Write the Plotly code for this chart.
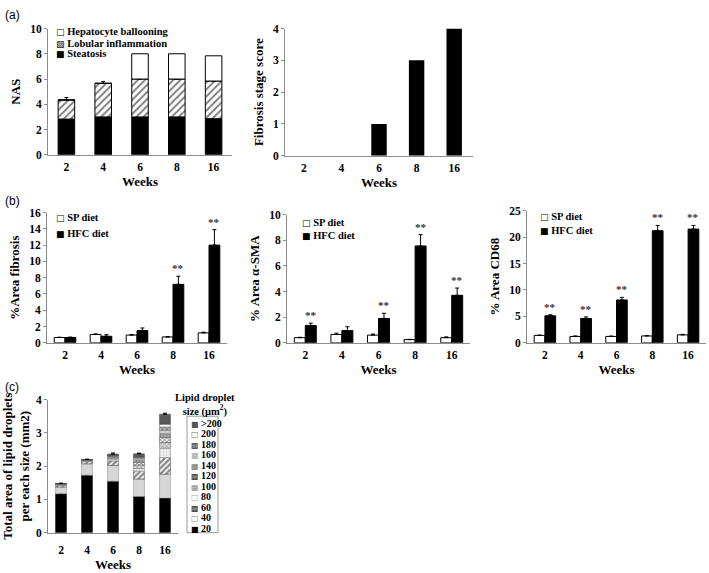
import numpy as np
import plotly.graph_objects as go

W, H = 709, 573
SERIF = "Liberation Serif"
SANS = "Liberation Sans"
SYM = "DejaVu Sans"
AX = "#8c8c8c"

# ---------------- data ----------------
weeks = ["2", "4", "6", "8", "16"]

# (a) NAS components
nas_steatosis = [2.83, 3.0, 3.0, 3.0, 2.86]
nas_lobular = [1.51, 2.66, 3.0, 3.0, 2.98]
nas_lobular_err = [0.2, 0.15, 0, 0, 0]
nas_ballooning = [0, 0, 2.0, 2.0, 2.0]
nas_names = ["Steatosis", "Lobular inflammation", "Hepatocyte ballooning"]

# (a) fibrosis stage
fibrosis_stage = [0, 0, 1, 3, 4]

# (b) % area fibrosis
fib_sp = [0.65, 1.02, 0.95, 0.72, 1.22]
fib_sp_err = [0.04, 0.08, 0.06, 0.04, 0.08]
fib_hfc = [0.65, 0.8, 1.5, 7.18, 12.0]
fib_hfc_err = [0.06, 0.2, 0.32, 1.0, 1.9]
fib_sig = ["", "", "", "**", "**"]

# (b) % area alpha-SMA
sma_sp = [0.4, 0.65, 0.6, 0.25, 0.4]
sma_sp_err = [0.03, 0.1, 0.08, 0.02, 0.06]
sma_hfc = [1.35, 0.95, 1.9, 7.55, 3.7]
sma_hfc_err = [0.18, 0.3, 0.4, 0.88, 0.57]
sma_sig = ["**", "", "**", "**", "**"]

# (b) % area CD68
cd68_sp = [1.4, 1.2, 1.2, 1.3, 1.5]
cd68_sp_err = [0.06, 0.1, 0.08, 0.05, 0.1]
cd68_hfc = [5.1, 4.6, 8.1, 21.2, 21.5]
cd68_hfc_err = [0.2, 0.3, 0.5, 1.0, 0.7]
cd68_sig = ["**", "**", "**", "**", "**"]

diet_names = ["SP diet", "HFC diet"]

# (c) lipid droplet area per size class (mm2)
lipid_size_labels = ["20", "40", "60", "80", "100", "120", "140", "160", "180", "200", ">200"]
lipid_20 = [1.17, 1.73, 1.55, 1.09, 1.04]
lipid_40 = [0.2, 0.34, 0.47, 0.52, 0.72]
lipid_60 = [0.05, 0.07, 0.14, 0.24, 0.5]
lipid_80 = [0.02, 0.02, 0.05, 0.08, 0.28]
lipid_100 = [0.01, 0.01, 0.04, 0.1, 0.17]
lipid_120 = [0.01, 0.01, 0.03, 0.08, 0.15]
lipid_140 = [0.005, 0.005, 0.02, 0.06, 0.12]
lipid_160 = [0.005, 0.005, 0.01, 0.05, 0.1]
lipid_180 = [0.005, 0.005, 0.005, 0.04, 0.1]
lipid_200 = [0.0, 0.0, 0.0, 0.01, 0.08]
lipid_gt200 = [0.005, 0.005, 0.05, 0.1, 0.3]
lipid_20_err = [0.15, 0.27, 0.25, 0.1, 0.13]
lipid_top_err = [0.01, 0.01, 0.03, 0.02, 0.03]

# ---------------- helpers ----------------
def xd(a, b):
    return [a / W, b / W]


def yd(top, bottom):
    return [1 - bottom / H, 1 - top / H]


def px(x):
    return x / W


def py(y):
    return 1 - y / H


tickfont = dict(family=SERIF, size=11.5, color="black", weight="bold")
titlefont = dict(family=SERIF, size=13, color="black", weight="bold")


def xaxis_cfg(dom, anchor, standoff=5, tls=1):
    return dict(domain=dom, anchor=anchor, type="category", showline=True,
                linecolor=AX, linewidth=1, ticks="", tickfont=tickfont,
                ticklabelstandoff=tls, showgrid=False, zeroline=False,
                range=[-0.5, 4.5], fixedrange=True,
                title=dict(text="Weeks", font=titlefont, standoff=standoff))


def yaxis_cfg(dom, anchor, rng, dtick, title, standoff=6):
    return dict(domain=dom, anchor=anchor, range=rng, dtick=dtick, tick0=0,
                showline=True, linecolor=AX, linewidth=1, ticks="outside",
                ticklen=3, tickcolor=AX, tickfont=tickfont, showgrid=False,
                zeroline=False, fixedrange=True,
                title=dict(text=title, font=titlefont, standoff=standoff))


err_style = dict(type="data", symmetric=False, color="black", thickness=1, width=2)

fig = go.Figure()

# ---------------- (a) NAS stacked ----------------
nas_base1 = np.array(nas_steatosis)
nas_base2 = nas_base1 + np.array(nas_lobular)
fig.add_trace(go.Bar(x=weeks, y=nas_steatosis, name=nas_names[0], width=0.45,
                     marker=dict(color="black", line=dict(color="black", width=1)),
                     xaxis="x", yaxis="y"))
fig.add_trace(go.Bar(x=weeks, y=nas_lobular, base=nas_base1, name=nas_names[1], width=0.45,
                     marker=dict(color="white", line=dict(color="black", width=1),
                                 pattern=dict(shape="/", fgcolor="black", bgcolor="white",
                                              size=5, solidity=0.4)),
                     error_y=dict(array=nas_lobular_err, arrayminus=[0] * 5, **err_style),
                     xaxis="x", yaxis="y"))
fig.add_trace(go.Bar(x=weeks, y=nas_ballooning, base=nas_base2, name=nas_names[2], width=0.45,
                     marker=dict(color="white", line=dict(color="black", width=1)),
                     xaxis="x", yaxis="y"))

# ---------------- (a) fibrosis stage ----------------
fig.add_trace(go.Bar(x=weeks, y=fibrosis_stage, width=0.41,
                     marker=dict(color="black", line=dict(color="black", width=0)),
                     xaxis="x2", yaxis="y2"))

# ---------------- (b) grouped panels ----------------
BW = 0.3
panels_b = [
    ("x3", "y3", fib_sp, fib_sp_err, fib_hfc, fib_hfc_err, fib_sig),
    ("x4", "y4", sma_sp, sma_sp_err, sma_hfc, sma_hfc_err, sma_sig),
    ("x5", "y5", cd68_sp, cd68_sp_err, cd68_hfc, cd68_hfc_err, cd68_sig),
]
for xa, ya, sp, spe, hfc, hfce, sig in panels_b:
    fig.add_trace(go.Bar(x=weeks, y=sp, name=diet_names[0], width=BW, offset=-BW,
                         marker=dict(color="white", line=dict(color="black", width=1)),
                         error_y=dict(array=spe, arrayminus=[0] * 5, **err_style),
                         xaxis=xa, yaxis=ya))
    fig.add_trace(go.Bar(x=weeks, y=hfc, name=diet_names[1], width=BW, offset=0,
                         marker=dict(color="black", line=dict(color="black", width=1)),
                         error_y=dict(array=hfce, arrayminus=[0] * 5, **err_style),
                         xaxis=xa, yaxis=ya))
    for i, s in enumerate(sig):
        if s:
            # category axis: use the category index, shifted onto the HFC bar
            fig.add_annotation(x=i + BW / 2, y=hfc[i] + hfce[i], xref=xa, yref=ya,
                               text=s, showarrow=False, xanchor="center", yanchor="bottom",
                               yshift=0,
                               font=dict(family=SERIF, size=11, color="#333", weight="bold"))

# ---------------- (c) lipid droplet stacked ----------------
lipid_series = [lipid_20, lipid_40, lipid_60, lipid_80, lipid_100, lipid_120,
                lipid_140, lipid_160, lipid_180, lipid_200, lipid_gt200]
lipid_styles = [
    dict(color="black", line=dict(color="black", width=0.5)),
    dict(color="#d6d6d6", line=dict(color="#888", width=0.5)),
    dict(color="white", line=dict(color="#444", width=0.5),
         pattern=dict(shape="/", fgcolor="#111", bgcolor="white", size=4, solidity=0.6)),
    dict(color="#f0f0f0", line=dict(color="#888", width=0.5),
         pattern=dict(shape=".", fgcolor="#a8a8a8", bgcolor="#f4f4f4", size=3, solidity=0.35)),
    dict(color="#cccccc", line=dict(color="#666", width=0.5),
         pattern=dict(shape="x", fgcolor="#555", bgcolor="#d8d8d8", size=3, solidity=0.35)),
    dict(color="white", line=dict(color="#444", width=0.5),
         pattern=dict(shape="x", fgcolor="#222", bgcolor="white", size=3, solidity=0.5)),
    dict(color="#aaaaaa", line=dict(color="#666", width=0.5),
         pattern=dict(shape=".", fgcolor="#444", bgcolor="#b5b5b5", size=3, solidity=0.45)),
    dict(color="#cfcfcf", line=dict(color="#777", width=0.5)),
    dict(color="#999999", line=dict(color="#555", width=0.5),
         pattern=dict(shape="x", fgcolor="#222", bgcolor="#c0c0c0", size=3, solidity=0.45)),
    dict(color="white", line=dict(color="#777", width=0.5)),
    dict(color="#5a5a5a", line=dict(color="#444", width=0.5)),
]
lipid_base = np.zeros(5)
for k, (vals, sty) in enumerate(zip(lipid_series, lipid_styles)):
    err = None
    if k == 0:
        err = dict(array=lipid_20_err, arrayminus=[0] * 5, **err_style)
    elif k == len(lipid_series) - 1:
        err = dict(array=lipid_top_err, arrayminus=[0] * 5, **err_style)
    fig.add_trace(go.Bar(x=weeks, y=vals, base=lipid_base.copy(), width=0.42,
                         name=lipid_size_labels[k], marker=sty, error_y=err,
                         xaxis="x6", yaxis="y6"))
    lipid_base = lipid_base + np.array(vals)

# ---------------- layout / axes ----------------
fig.update_layout(
    width=W, height=H, margin=dict(l=0, r=0, t=0, b=0),
    paper_bgcolor="white", plot_bgcolor="white", barmode="overlay",
    showlegend=False,
    xaxis=xaxis_cfg(xd(48, 232), "y"),
    yaxis=yaxis_cfg(yd(23, 152), "x", [0, 10], 2, "NAS"),
    xaxis2=xaxis_cfg(xd(285, 473), "y2"),
    yaxis2=yaxis_cfg(yd(23, 153), "x2", [0, 4], 1, "Fibrosis stage score"),
    xaxis3=xaxis_cfg(xd(47, 227), "y3"),
    yaxis3=yaxis_cfg(yd(211, 344), "x3", [0, 16], 2, "%Area fibrosis"),
    xaxis4=xaxis_cfg(xd(287, 470), "y4"),
    yaxis4=yaxis_cfg(yd(213, 344), "x4", [0, 10], 2, "% Area α-SMA"),
    xaxis5=xaxis_cfg(xd(527, 706), "y5"),
    yaxis5=yaxis_cfg(yd(209, 344), "x5", [0, 25], 5, "% Area CD68"),
    xaxis6=xaxis_cfg(xd(48, 178), "y6", standoff=5, tls=6),
    yaxis6=yaxis_cfg(yd(402, 538), "x6", [0, 4], 1,
                     "Total area of lipid droplets<br>per each size (mm2)", standoff=6),
)

# panel letters
for lab, yy in [("(a)", 9), ("(b)", 199), ("(c)", 389)]:
    fig.add_annotation(x=px(3), y=py(yy), xref="paper", yref="paper", text=lab,
                       showarrow=False, xanchor="left", yanchor="middle",
                       font=dict(family=SANS, size=12, color="black"))

legfont = dict(family=SERIF, size=10.5, color="black", weight="bold")


def legend_item(x, y, glyph, gcolor, label, gsize=9, font=legfont):
    fig.add_annotation(
        x=px(x), y=py(y), xref="paper", yref="paper", showarrow=False,
        xanchor="left", yanchor="middle", font=font,
        text=f"<span style='font-family:{SYM};font-size:{gsize}px;color:{gcolor}'>{glyph}</span> {label}")


# (a) legend
legend_item(54, 26, "□", "black", nas_names[2])
legend_item(54, 38, "▨", "black", nas_names[1])
legend_item(54, 49, "■", "black", nas_names[0])

# (b) legends
for (x0, y1, y2) in [(54, 216, 232), (300, 221, 234), (538, 215, 229)]:
    legend_item(x0, y1, "□", "black", diet_names[0])
    legend_item(x0, y2, "■", "black", diet_names[1])

# (c) legend box
fig.add_shape(type="rect", xref="paper", yref="paper", x0=px(187), x1=px(218),
              y0=py(538), y1=py(419), line=dict(color="#999", width=1), fillcolor="white")
fig.add_annotation(x=px(205), y=py(408), xref="paper", yref="paper", showarrow=False,
                   xanchor="center", yanchor="middle",
                   text="Lipid droplet<br>size (μm<sup>2</sup>)",
                   font=dict(family=SERIF, size=10.5, color="black", weight="bold"))
lipid_glyphs = ["■", "□", "▩", "□", "▦", "▩", "▦", "■", "▩", "□", "■"]
lipid_gcolors = ["black", "#888", "#333", "#aaa", "#888", "#333", "#666", "#bbb", "#444", "#777", "#555"]
lfont_c = dict(family=SERIF, size=10, color="black", weight="bold")
for k in range(len(lipid_size_labels)):
    row = len(lipid_size_labels) - 1 - k
    legend_item(189, 426 + row * 10.75, lipid_glyphs[k], lipid_gcolors[k],
                lipid_size_labels[k], gsize=8, font=lfont_c)

fig.write_html("out.html", config={"displayModeBar": False},
               post_script="document.body.style.margin='0px';")
